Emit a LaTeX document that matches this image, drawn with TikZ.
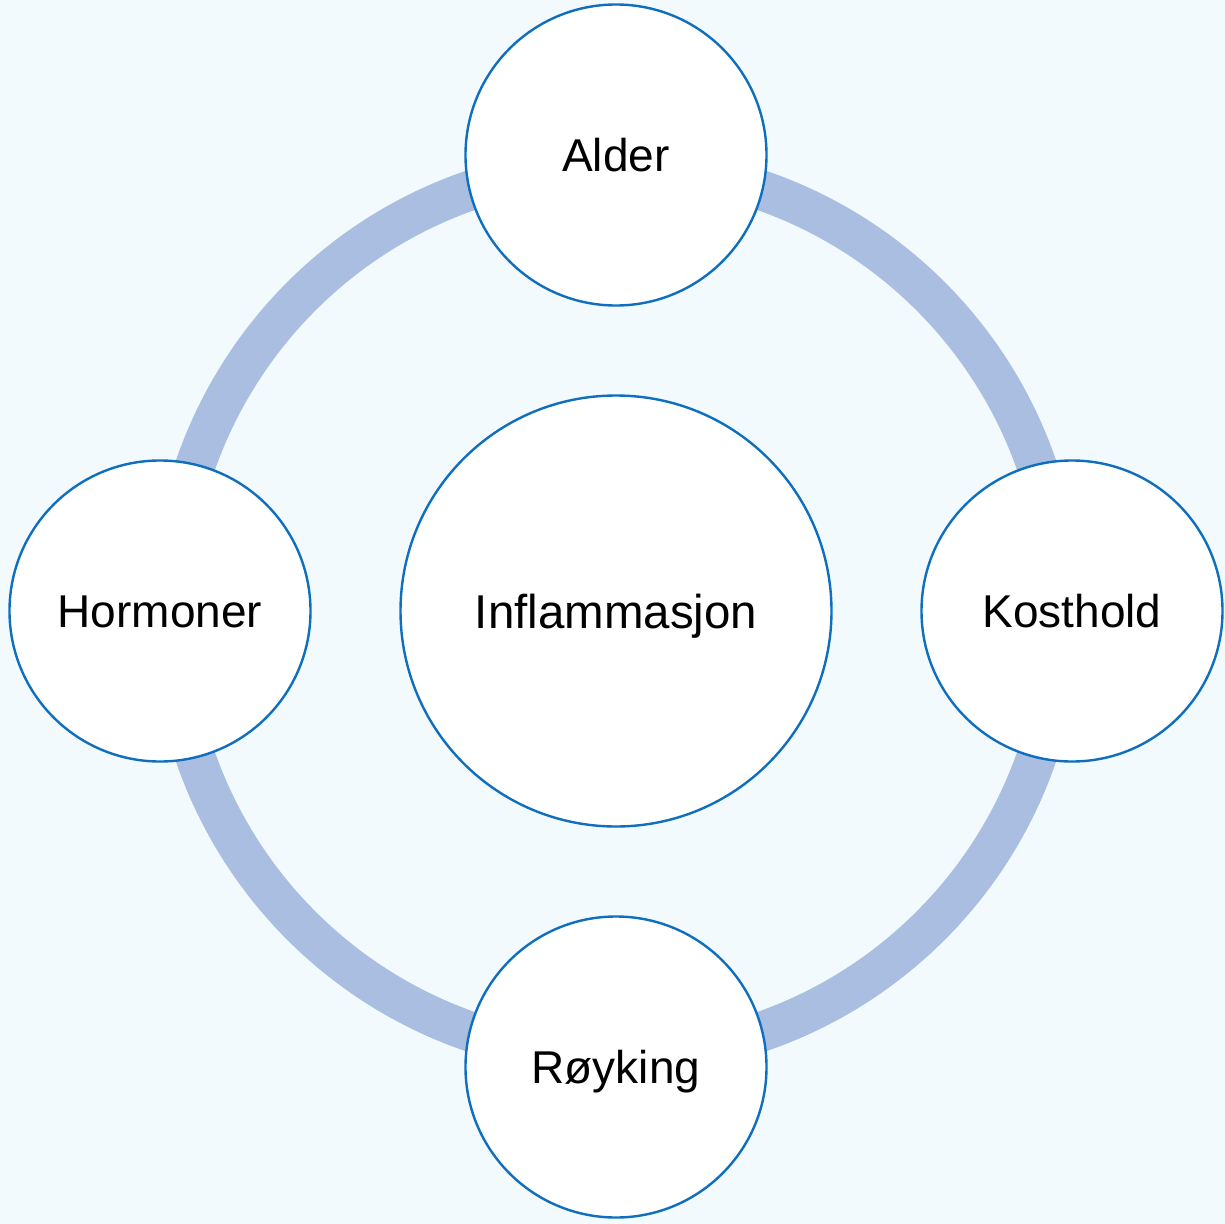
\documentclass[tikz,border=0pt]{standalone}
\usepackage{fontspec}
\setmainfont{Liberation Sans}
\definecolor{bgc}{HTML}{F2FAFE}
\definecolor{ringc}{HTML}{A9BEE0}
\definecolor{edgec}{HTML}{0F6FBE}
\begin{document}
\begin{tikzpicture}[x=0.75pt,y=-0.75pt,
  bub/.style={circle,draw=edgec,line width=1.8pt,fill=white,inner sep=0pt,
    text height=24.7pt,text depth=0pt,
    font=\fontsize{34.5pt}{40pt}\selectfont},
  small/.style={bub,minimum size=301*0.75pt},
  big/.style={bub,minimum size=431*0.75pt,text height=25.5pt,
    font=\fontsize{35.6pt}{42pt}\selectfont}]
\fill[bgc] (0,0) rectangle (1225,1224);
\useasboundingbox (0,0) rectangle (1225,1224);
\coordinate (c) at (616,611);
\draw[ringc,line width=30pt] (c) circle[radius=445*0.75pt];
\node[big] (infl) at (c) {Inflammasjon};
\node[small] (alder) at (616,155) {Alder};
\node[small] (kost) at (1072,611) {Kosthold};
\node[small] (royk) at (616,1067) {Røyking};
\node[small] (horm) at (160,611) {Hormoner};
\end{tikzpicture}
\end{document}
